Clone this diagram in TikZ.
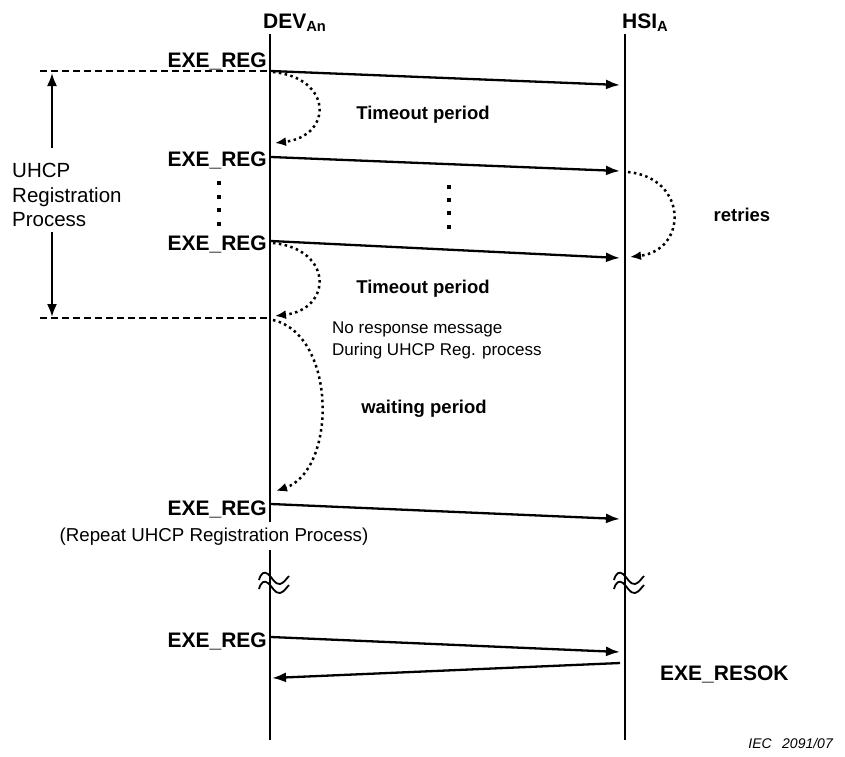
\documentclass[tikz,border=0pt]{standalone}
\usepackage{fontspec}
\setmainfont{Liberation Sans}
\usetikzlibrary{arrows.meta}
\begin{document}
\begin{tikzpicture}[x=1pt,y=-1pt,
  life/.style={line width=1.8pt},
  msg/.style={line width=2.3pt,-{Latex[length=14pt,width=10pt]}},
  dotline/.style={line width=2.5pt,dash pattern=on 2.5pt off 3.4pt,-{Latex[length=11pt,width=9pt]}},
  guide/.style={line width=1.3pt,dash pattern=on 7pt off 4pt},
  span/.style={line width=2.1pt,-{Latex[length=13pt,width=10pt]}},
  wave/.style={line width=1.8pt},
  regl/.style={font=\fontsize{21}{24}\selectfont\bfseries,anchor=base east,inner sep=0pt},
  head/.style={font=\fontsize{21}{24}\selectfont\bfseries,anchor=base west,inner sep=0pt},
  lab/.style={font=\fontsize{18.5}{22}\selectfont\bfseries,anchor=base,inner sep=0pt},
  txt/.style={font=\fontsize{17}{22}\selectfont,anchor=base west,inner sep=0pt},
  sqdot/.style={fill=black,minimum size=4.5pt,inner sep=0pt}
]
\useasboundingbox (0,0) rectangle (845,756);

% lifelines
\coordinate (dtop) at (270,34); \coordinate (dbot) at (270,740);
\coordinate (htop) at (625,34); \coordinate (hbot) at (625,740);
\draw[life] (dtop) -- (dbot);
\draw[life] (htop) -- (hbot);

\node[head] (dev) at (263,28) {DEV\textsubscript{An}};
\node[head] (hsi) at (622,28) {HSI\textsubscript{A}};

% repeat text (interrupts lifeline)
\node[font=\fontsize{18.7}{22}\selectfont,fill=white,inner xsep=1pt,inner ysep=5pt,anchor=base] (rep) at (214,541) {(Repeat UHCP Registration Process)};

% messages
\coordinate (d1) at (271,71);  \coordinate (h1) at (620,85);
\coordinate (d2) at (271,157); \coordinate (h2) at (620,171);
\coordinate (d3) at (271,241); \coordinate (h3) at (620,258);
\coordinate (d4) at (271,504); \coordinate (h4) at (620,519);
\coordinate (d5) at (271,637); \coordinate (h5) at (620,652);
\coordinate (h6) at (620,663); \coordinate (d6) at (272,678);
\draw[msg] (d1) -- (h1);
\draw[msg] (d2) -- (h2);
\draw[msg] (d3) -- (h3);
\draw[msg] (d4) -- (h4);
\draw[msg] (d5) -- (h5);
\draw[msg] (h6) -- (d6);

\node[regl] (l1) at (267,67) {EXE\_REG};
\node[regl] (l2) at (267,166) {EXE\_REG};
\node[regl] (l3) at (267,250) {EXE\_REG};
\node[regl] (l4) at (267,515) {EXE\_REG};
\node[regl] (l5) at (267,647) {EXE\_REG};
\node[head] (ok) at (660,680) {EXE\_RESOK};

% dashed guides and span arrow
\coordinate (g1a) at (40,71);  \coordinate (g1b) at (270,71);
\coordinate (g2a) at (40,318); \coordinate (g2b) at (270,318);
\draw[guide] (g1a) -- (g1b);
\draw[guide] (g2a) -- (g2b);
\node[font=\fontsize{20.5}{24.5}\selectfont,align=left,anchor=north west,inner sep=0pt] (uhcp) at (12,163) {UHCP\\Registration\\Process};
\coordinate (s1) at (52,148); \coordinate (s1t) at (52,73);
\coordinate (s2) at (52,232); \coordinate (s2t) at (52,317);
\draw[span] (s1) -- (s1t);
\draw[span] (s2) -- (s2t);

% vertical dots
\node[sqdot] (a1) at (219,183) {}; \node[sqdot] (a2) at (219,197) {};
\node[sqdot] (a3) at (219,210) {}; \node[sqdot] (a4) at (219,224) {};
\node[sqdot] (b1) at (449,187) {}; \node[sqdot] (b2) at (449,200) {};
\node[sqdot] (b3) at (449,213) {}; \node[sqdot] (b4) at (449,227) {};

% dotted curves
\coordinate (t1s) at (273,72);  \coordinate (t1e) at (275,143);
\coordinate (t2s) at (273,243); \coordinate (t2e) at (275,316);
\coordinate (rs) at (628,172);  \coordinate (re) at (630,257);
\coordinate (ws) at (273,320);  \coordinate (we) at (276,491);
\draw[dotline] (t1s) .. controls (333,78) and (333,136) .. (t1e);
\draw[dotline] (t2s) .. controls (333,249) and (333,309) .. (t2e);
\draw[dotline] (rs) .. controls (688,178) and (688,250) .. (re);
\draw[dotline] (ws) .. controls (337,335) and (337,470) .. (we);

% labels
\node[lab] (to1) at (423,119) {Timeout period};
\node[lab] (to2) at (423,293) {Timeout period};
\node[lab] (ret) at (742,221) {retries};
\node[lab] (wait) at (424,413) {waiting period};
\node[txt] (nr1) at (332,333) {No response message};
\node[txt] (nr2) at (332,355) {During UHCP Reg. process};

% break symbols
\foreach \cx in {273, 628}{
  \foreach \dy in {0,9}{
    \draw[wave] (\cx-14,580+\dy) .. controls (\cx-12,573+\dy) and (\cx-9,571+\dy) .. (\cx-5,574+\dy)
      .. controls (\cx-1,577+\dy) and (\cx+2,585+\dy) .. (\cx+7,584+\dy)
      .. controls (\cx+11,583+\dy) and (\cx+13,579+\dy) .. (\cx+16,576+\dy);
  }
}

\node[font=\fontsize{14}{16}\selectfont\itshape,anchor=base east,inner sep=0pt] (iec) at (833,748) {IEC\hspace{0.75em}2091/07};
\end{tikzpicture}
\end{document}
